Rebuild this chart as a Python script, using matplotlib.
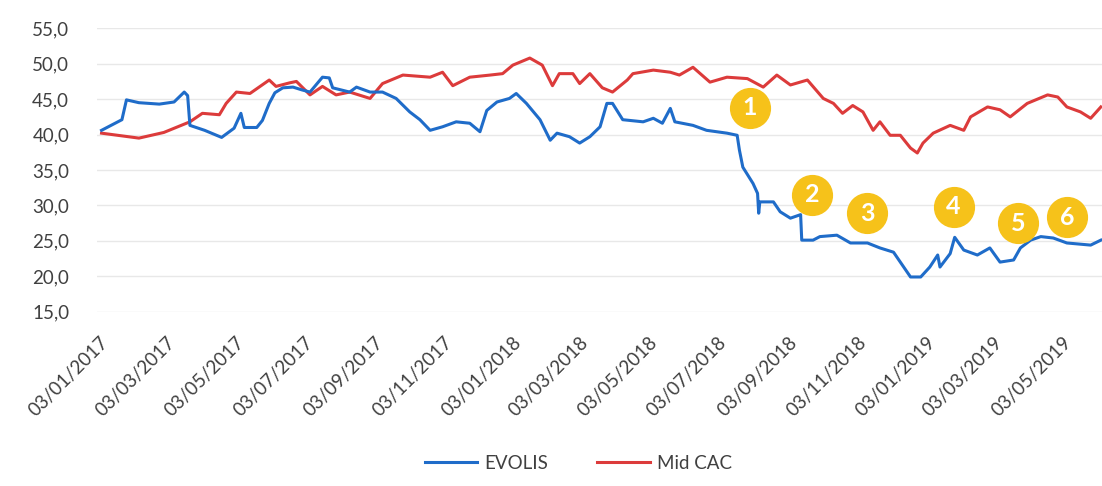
import matplotlib
matplotlib.use("Agg")
import matplotlib.pyplot as plt
import matplotlib.dates as mdates
import pandas as pd

# EVOLIS (blue)
evolis_dates = [
    "2017-01-05", "2017-01-23", "2017-01-27", "2017-02-07", "2017-02-25", "2017-03-10",
    "2017-03-19", "2017-03-22", "2017-03-24", "2017-04-06", "2017-04-21", "2017-05-02",
    "2017-05-08", "2017-05-11", "2017-05-22", "2017-05-27", "2017-06-02", "2017-06-07",
    "2017-06-14", "2017-06-23", "2017-07-01", "2017-07-08", "2017-07-19", "2017-07-25",
    "2017-07-28", "2017-08-12", "2017-08-18", "2017-08-30", "2017-09-10", "2017-09-22",
    "2017-10-04", "2017-10-13", "2017-10-22", "2017-11-02", "2017-11-14", "2017-11-26",
    "2017-12-05", "2017-12-11", "2017-12-20", "2017-12-31", "2018-01-06", "2018-01-15",
    "2018-01-27", "2018-02-05", "2018-02-11", "2018-02-22", "2018-03-03", "2018-03-12",
    "2018-03-21", "2018-03-27", "2018-04-01", "2018-04-10", "2018-04-28", "2018-05-07",
    "2018-05-15", "2018-05-22", "2018-05-26", "2018-06-11", "2018-06-23", "2018-07-11",
    "2018-07-20", "2018-07-22", "2018-07-25", "2018-08-03", "2018-08-07", "2018-08-08",
    "2018-08-09", "2018-08-21", "2018-08-27", "2018-09-05", "2018-09-14", "2018-09-15",
    "2018-09-25", "2018-10-01", "2018-10-16", "2018-10-28", "2018-11-12", "2018-11-23",
    "2018-12-05", "2018-12-11", "2018-12-20", "2018-12-29", "2019-01-06", "2019-01-13",
    "2019-01-15", "2019-01-24", "2019-01-28", "2019-02-05", "2019-02-17", "2019-02-28",
    "2019-03-09", "2019-03-21", "2019-03-27", "2019-04-05", "2019-04-14", "2019-04-25",
    "2019-05-07", "2019-05-28", "2019-06-06",
]
evolis_values = [
    40.6, 42.1, 44.9, 44.5, 44.3, 44.6,
    46.0, 45.5, 41.3, 40.6, 39.6, 40.9,
    43.0, 41.0, 41.0, 42.0, 44.4, 45.9,
    46.6, 46.7, 46.3, 46.0, 48.1, 48.0,
    46.6, 46.0, 46.7, 46.0, 46.0, 45.1,
    43.2, 42.1, 40.6, 41.1, 41.8, 41.6,
    40.4, 43.4, 44.6, 45.1, 45.8, 44.4,
    42.1, 39.2, 40.2, 39.7, 38.8, 39.7,
    41.1, 44.4, 44.4, 42.1, 41.8, 42.3,
    41.6, 43.7, 41.8, 41.3, 40.6, 40.2,
    39.9, 37.8, 35.4, 33.1, 31.7, 28.9,
    30.5, 30.5, 29.1, 28.2, 28.7, 25.1,
    25.1, 25.6, 25.8, 24.7, 24.7, 24.0,
    23.4, 22.0, 19.9, 19.9, 21.3, 23.0,
    21.3, 23.2, 25.5, 23.7, 23.0, 24.0,
    22.0, 22.3, 24.0, 25.1, 25.6, 25.4,
    24.7, 24.4, 25.1,
]

# Mid CAC (red)
midcac_dates = [
    "2017-01-05", "2017-02-07", "2017-03-01", "2017-03-24", "2017-04-04", "2017-04-19",
    "2017-04-25", "2017-05-04", "2017-05-16", "2017-06-02", "2017-06-08", "2017-06-20",
    "2017-06-26", "2017-07-08", "2017-07-19", "2017-07-31", "2017-08-12", "2017-08-30",
    "2017-09-10", "2017-09-28", "2017-10-22", "2017-11-02", "2017-11-11", "2017-11-26",
    "2017-12-14", "2017-12-25", "2018-01-03", "2018-01-18", "2018-01-29", "2018-02-07",
    "2018-02-13", "2018-02-25", "2018-03-03", "2018-03-12", "2018-03-23", "2018-04-01",
    "2018-04-14", "2018-04-19", "2018-05-07", "2018-05-22", "2018-05-30", "2018-06-11",
    "2018-06-26", "2018-07-11", "2018-07-29", "2018-08-12", "2018-08-24", "2018-09-05",
    "2018-09-20", "2018-10-04", "2018-10-13", "2018-10-21", "2018-10-30", "2018-11-08",
    "2018-11-17", "2018-11-23", "2018-12-02", "2018-12-11", "2018-12-20", "2018-12-26",
    "2018-12-31", "2019-01-09", "2019-01-24", "2019-02-05", "2019-02-11", "2019-02-26",
    "2019-03-09", "2019-03-18", "2019-04-02", "2019-04-20", "2019-04-29", "2019-05-07",
    "2019-05-19", "2019-05-28", "2019-06-06",
]
midcac_values = [
    40.2, 39.5, 40.3, 41.8, 43.0, 42.8,
    44.4, 46.0, 45.8, 47.7, 46.8, 47.3,
    47.5, 45.6, 46.8, 45.6, 46.0, 45.1,
    47.2, 48.4, 48.1, 48.8, 46.9, 48.1,
    48.4, 48.6, 49.8, 50.8, 49.8, 46.9,
    48.6, 48.6, 47.2, 48.6, 46.6, 46.0,
    47.7, 48.6, 49.1, 48.8, 48.4, 49.5,
    47.4, 48.1, 47.9, 46.7, 48.4, 47.0,
    47.7, 45.1, 44.4, 43.0, 44.1, 43.2,
    40.6, 41.8, 39.9, 39.9, 38.1, 37.4,
    38.8, 40.2, 41.3, 40.6, 42.5, 43.9,
    43.5, 42.5, 44.4, 45.6, 45.3, 43.9,
    43.2, 42.3, 43.9,
]

# numbered event markers
event_labels = ["1", "2", "3", "4", "5", "6"]
event_dates = ["2018-07-31", "2018-09-24", "2018-11-12", "2019-01-27", "2019-03-25", "2019-05-07"]
event_values = [43.8, 31.5, 28.9, 29.8, 27.5, 28.3]

plt.rcParams['font.family'] = ['Lato', 'DejaVu Sans']

fig = plt.figure(figsize=(11.02, 4.86), dpi=100)
ax = fig.add_axes([97 / 1102, 1 - 311.7 / 486, 1 - 97 / 1102, (311.7 - 28.3) / 486])

ev_x = pd.to_datetime(evolis_dates)
mc_x = pd.to_datetime(midcac_dates)
ax.plot(ev_x, evolis_values, color='#1F6CC9', lw=2.2, label='EVOLIS', zorder=3)
ax.plot(mc_x, midcac_values, color='#DC3B3B', lw=2.2, label='Mid CAC', zorder=2)

# yellow circled numbers
evt_x = pd.to_datetime(event_dates)
ax.scatter(evt_x, event_values, s=820, color='#F6C21A', zorder=4, clip_on=False)
for lab, x, y in zip(event_labels, evt_x, event_values):
    ax.text(x, y, lab, color='white', fontsize=18, fontweight='bold',
            ha='center', va='center', zorder=5)

ax.set_ylim(15, 55)
ax.set_yticks(range(15, 60, 5))
ax.set_yticklabels([f"{v},0" for v in range(15, 60, 5)])
ax.set_xlim(pd.Timestamp("2017-01-01"), pd.Timestamp("2019-06-07"))
ax.xaxis.set_major_locator(mdates.MonthLocator(bymonth=[1, 3, 5, 7, 9, 11], bymonthday=3))
ax.xaxis.set_major_formatter(mdates.DateFormatter('%d/%m/%Y'))

for lbl in ax.get_xticklabels():
    lbl.set_rotation(45)
    lbl.set_ha('right')
    lbl.set_va('top')
    lbl.set_rotation_mode('anchor')

ax.tick_params(axis='both', length=0, labelsize=13.5, colors='#404040')
ax.tick_params(axis='y', pad=20)
ax.tick_params(axis='x', pad=16)
ax.grid(axis='y', color='#e8e8e8', lw=1.0)
ax.set_axisbelow(True)
for s in ax.spines.values():
    s.set_visible(False)

fig.legend(loc='lower center', bbox_to_anchor=(0.525, -0.005), ncol=2, frameon=False,
           fontsize=13.5, handlelength=2.8, handletextpad=0.4, columnspacing=2.6,
           labelcolor='#404040')

fig.savefig('out.png', dpi=100)
